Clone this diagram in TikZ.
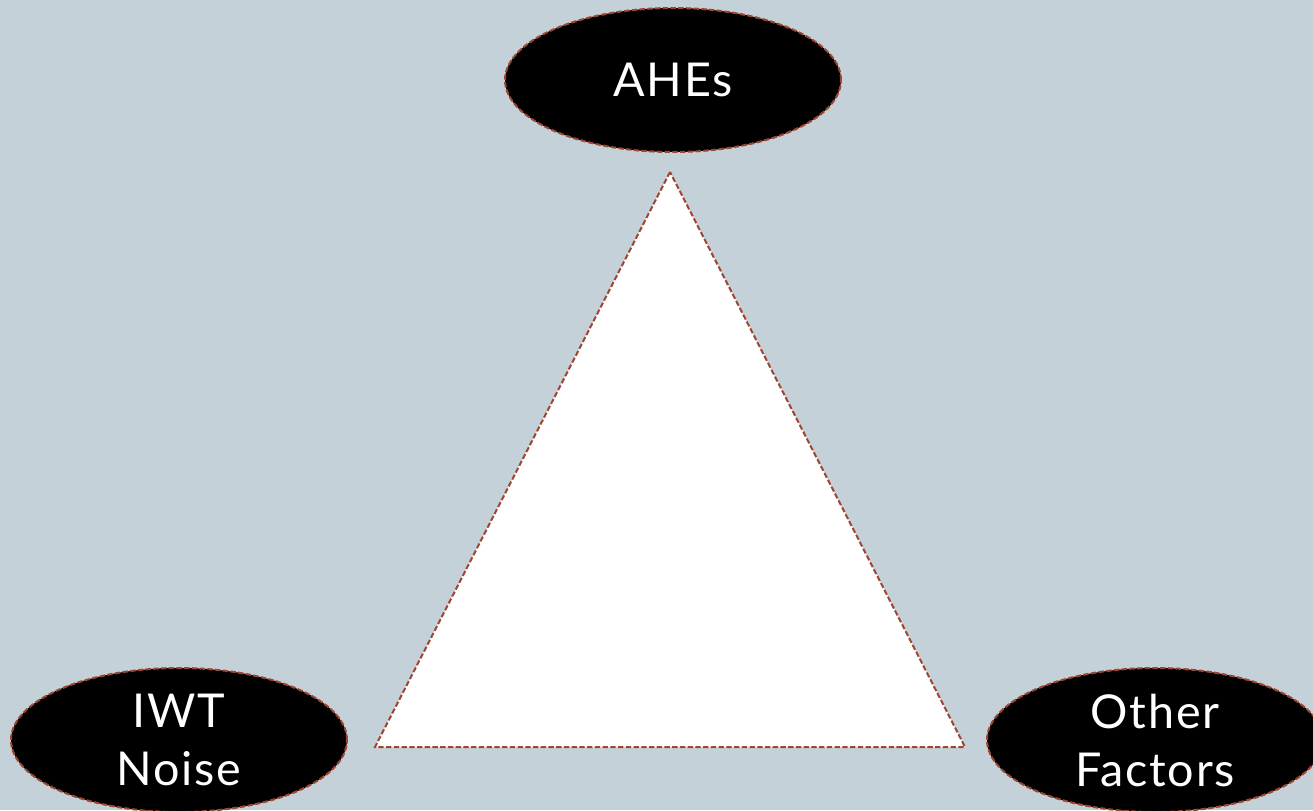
\documentclass[tikz,border=0pt]{standalone}
\usepackage{fontspec}
\setmainfont[LetterSpace=4]{Lato}
\usetikzlibrary{shapes.geometric}
\definecolor{bg}{HTML}{C5D1D8}
\definecolor{dashc}{HTML}{A0452F}
\tikzset{
  oval/.style={ellipse, fill=black, draw=dashc, line width=1.5pt,
    dash pattern=on 4pt off 1.8pt, minimum width=336*0.75pt, minimum height=144*0.75pt,
    inner sep=0pt, text=white, font=\fontsize{35}{43.5}\selectfont, align=center},
  tri/.style={fill=white, draw=dashc, line width=1.5pt, dash pattern=on 4pt off 1.8pt}
}
\begin{document}
\begin{tikzpicture}[x=0.75pt,y=-0.75pt]
\useasboundingbox (0,0) rectangle (1313,810);
\clip (0,0) rectangle (1313,810);
\fill[bg] (0,0) rectangle (1313,810);
\coordinate (apex) at (670,172);
\coordinate (bl) at (375,747);
\coordinate (br) at (965,747);
\draw[tri] (apex) -- (bl) -- (br) -- cycle;
\node[oval] (ahes) at (673,80) {AHEs};
\node[oval] (iwt) at (179,740) {IWT\\Noise};
\node[oval] (other) at (1155,740) {Other\\Factors};
\end{tikzpicture}
\end{document}
